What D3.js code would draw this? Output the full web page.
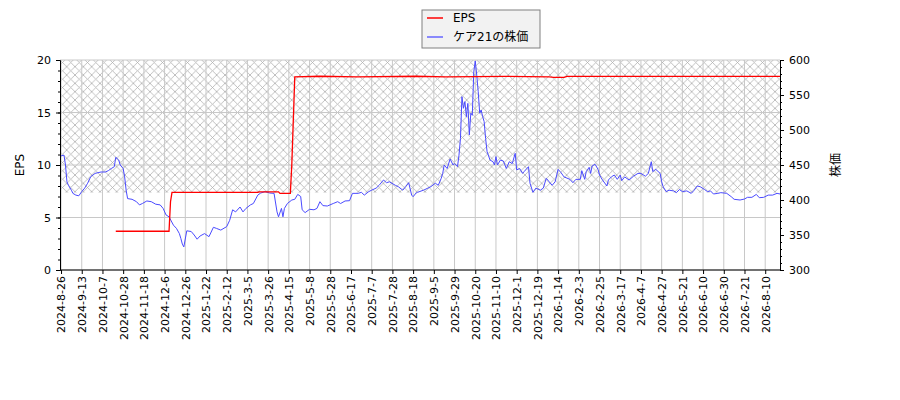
<!DOCTYPE html>
<html>
<head>
<meta charset="utf-8">
<script src="https://cdn.jsdelivr.net/npm/d3@7"></script>
<style>
  body { margin: 0; background: #fff; }
  text { font-family: "DejaVu Sans", sans-serif; }
</style>
</head>
<body>
<div id="chart-area"></div>
<script>
// X tick labels, one every 14 trading days
var tickLabels = ['2024-8-26','2024-9-13','2024-10-7','2024-10-28','2024-11-18','2024-12-6','2024-12-26',
  '2025-1-22','2025-2-12','2025-3-5','2025-3-26','2025-4-15','2025-5-8','2025-5-28','2025-6-17','2025-7-7',
  '2025-7-28','2025-8-18','2025-9-5','2025-9-29','2025-10-20','2025-11-10','2025-12-1','2025-12-19',
  '2026-1-14','2026-2-3','2026-2-25','2026-3-17','2026-4-7','2026-4-27','2026-5-21','2026-6-10',
  '2026-6-30','2026-7-21','2026-8-10'];
var tickStep = 14;
var lastDay = 486;

// EPS (left axis), [trading day, value]
var eps = [[37,3.69],[73,3.69],[74,6.5],[75,7.4],[133,7.4],[134,7.45],[147,7.45],[148,7.3],[155,7.3],
  [156,10.06],[158,18.4],[175,18.45],[200,18.4],[240,18.45],[260,18.4],[300,18.45],[330,18.4],
  [333,18.35],[340,18.35],[342,18.45],[486,18.45]];

// share price (right axis), [trading day, value]
var price = [[0,463],[2,464],[3,450],[4,426],[5,421],[7,414],[8,409.5],[10,407],[12,406],[14,412],[16,417],
  [18,424],[20,433],[23,438],[25,439],[27,440],[30,440],[32,442],[34,445],[36,447.6],[37,461],[39,457],
  [40,450],[42,445],[43,433],[44,414],[45,402],[48,401],[51,397.6],[53,393],[55,395],[58,398.6],[61,397.6],
  [64,394],[67,393],[69,388],[71,378.6],[73,376],[76,364],[78,359.5],[80,352],[81,345],[82,337],[83,333],
  [85,356],[88,355],[90,350],[92,344],[94,348.6],[97,352],[100,347.6],[103,361],[105,359.5],[108,357],
  [112,362],[114,371],[116,386],[118,383],[121,390],[123,383],[125,388],[128,393],[130,395],[133,407],
  [135,410],[138,412],[141,410],[144,409.5],[146,383],[147,376],[149,388],[150,376],[151,388],[153,395],
  [156,400],[158,401],[160,408],[162,405],[163,386],[165,382],[168,386.7],[171,386],[173,388],[175,397.6],
  [177,392],[180,391.4],[184,395],[187,397.6],[189,395],[192,398.6],[195,399],[197,409.5],[201,409.5],
  [203,411],[205,407],[208,412],[210,414],[213,417],[215,421],[218,428.6],[220,424.7],[222,426],[226,421],
  [228,419],[231,414],[233,419],[235,424.7],[237,407],[238,404.7],[240,410],[241,411],[245,414],[248,417],
  [250,419],[253,424],[255,421],[257,431],[258,438],[259,450],[261,445],[263,458.6],[265,450],[266,452],
  [268,447.6],[269,464],[270,488],[271,547.6],[272,531],[273,540.5],[274,519],[275,538],[276,493],
  [277,524],[278,521],[279,583],[280,598.6],[281,578.6],[282,554.8],[283,524],[284,528.6],[285,519],
  [286,512],[287,488],[288,469],[290,457],[292,454.7],[293,450],[294,462],[295,450],[297,457],[299,455.7],
  [301,445],[303,454.7],[305,452],[307,466.7],[308,443],[310,445],[312,438],[313,440.5],[316,447.6],
  [317,424],[319,411],[321,417],[324,414],[326,417],[328,431],[330,426],[332,421],[334,426],[336,443.8],
  [338,439],[340,433],[344,429.5],[346,424.7],[348,429.5],[351,429.5],[352,441.9],[354,429.5],[355,440.5],
  [357,446.7],[358,438],[359,448.6],[361,451],[363,443.8],[364,435.7],[366,428.6],[369,420],[370,428.6],
  [372,433],[374,435.7],[376,429.5],[378,435.7],[379,427.6],[381,433],[384,428.6],[387,434],[390,438],
  [392,438],[395,434],[397,438],[399,454.7],[400,440.5],[402,443.8],[405,438],[406,426],[407,419],
  [409,412],[411,414],[414,413],[416,410.5],[418,415],[420,412],[423,413],[426,409.5],[428,414],[430,420],
  [432,419],[435,415],[437,412],[439,413],[441,408.6],[444,409.5],[446,410.5],[450,409.5],[453,404.8],
  [455,401],[459,400],[462,401.4],[464,403.8],[467,403.8],[470,408],[472,403.3],[475,403.8],[478,407],
  [481,407],[484,409.5],[486,408.6]];

// hatched band on the EPS axis
var hatchBand = [7.36, 20];

var epsTicks = [0, 5, 10, 15, 20];
var priceTicks = [300, 350, 400, 450, 500, 550, 600];

var width = 900, height = 400;
var plotLeft = 60, plotRight = 780, plotTop = 60, plotBottom = 270;

var svg = d3.select('#chart-area').append('svg')
  .attr('width', width)
  .attr('height', height);

var x = d3.scaleLinear().domain([-0.7, lastDay]).range([plotLeft, plotRight]);
var yL = d3.scaleLinear().domain([0, 20]).range([plotBottom, plotTop]);
var yR = d3.scaleLinear().domain([300, 600]).range([plotBottom, plotTop]);

// hatch pattern
var defs = svg.append('defs');
var hs = 100 / 12;
var pat = defs.append('pattern')
  .attr('id', 'hatch')
  .attr('patternUnits', 'userSpaceOnUse')
  .attr('width', hs).attr('height', hs);
pat.append('path')
  .attr('d', `M0,0L${hs},${hs}M0,${hs}L${hs},0`)
  .attr('stroke', '#b0b0b0')
  .attr('stroke-width', 0.8)
  .attr('fill', 'none');

svg.append('rect')
  .attr('x', plotLeft).attr('width', plotRight - plotLeft)
  .attr('y', yL(hatchBand[1]))
  .attr('height', yL(hatchBand[0]) - yL(hatchBand[1]))
  .attr('fill', 'url(#hatch)');

// grid
var tickDays = tickLabels.map((d, i) => i * tickStep);
svg.append('g').selectAll('line')
  .data(tickDays).enter().append('line')
  .attr('x1', d => x(d)).attr('x2', d => x(d))
  .attr('y1', plotTop).attr('y2', plotBottom)
  .attr('stroke', '#c8c8c8').attr('stroke-width', 1);
svg.append('g').selectAll('line')
  .data(epsTicks).enter().append('line')
  .attr('x1', plotLeft).attr('x2', plotRight)
  .attr('y1', d => yL(d)).attr('y2', d => yL(d))
  .attr('stroke', '#c8c8c8').attr('stroke-width', 1);

// lines
svg.append('path')
  .datum(price)
  .attr('fill', 'none')
  .attr('stroke', '#4a4aff')
  .attr('stroke-width', 1)
  .attr('d', d3.line().x(d => x(d[0])).y(d => yR(d[1])));

svg.append('path')
  .datum(eps)
  .attr('fill', 'none')
  .attr('stroke', '#ff0000')
  .attr('stroke-width', 1.3)
  .attr('d', d3.line().x(d => x(d[0])).y(d => yL(d[1])));

// axes
var xAxis = svg.append('g')
  .attr('transform', `translate(0,${plotBottom})`)
  .call(d3.axisBottom(x).tickValues(tickDays).tickSize(4)
    .tickFormat((d, i) => tickLabels[i]));
xAxis.select('.domain').attr('d', `M${plotLeft},0H${plotRight}`);
xAxis.selectAll('text')
  .attr('transform', 'rotate(-90)')
  .attr('x', -6).attr('y', 0).attr('dy', '0.35em')
  .style('text-anchor', 'end');

var leftAxis = svg.append('g')
  .attr('transform', `translate(${plotLeft},0)`)
  .call(d3.axisLeft(yL).tickValues(d3.range(0, 21, 1)).tickSize(2).tickFormat(''));
leftAxis.select('.domain').remove();
svg.append('g')
  .attr('transform', `translate(${plotLeft},0)`)
  .call(d3.axisLeft(yL).tickValues(epsTicks).tickSize(4).tickPadding(5));

var rightAxis = svg.append('g')
  .attr('transform', `translate(${plotRight},0)`)
  .call(d3.axisRight(yR).tickValues(d3.range(300, 601, 10)).tickSize(2).tickFormat(''));
rightAxis.select('.domain').remove();
svg.append('g')
  .attr('transform', `translate(${plotRight},0)`)
  .call(d3.axisRight(yR).tickValues(priceTicks).tickSize(4).tickPadding(5));

svg.selectAll('.tick text').style('font-size', '11px').style('font-family', '"DejaVu Sans", sans-serif');
svg.selectAll('.domain').attr('stroke', '#000');

// axis titles
svg.append('text')
  .attr('transform', `translate(24,${(plotTop + plotBottom) / 2}) rotate(-90)`)
  .style('text-anchor', 'middle')
  .style('font-size', '12px')
  .text('EPS');
svg.append('text')
  .attr('transform', `translate(840,${(plotTop + plotBottom) / 2}) rotate(-90)`)
  .style('text-anchor', 'middle')
  .style('font-size', '12px')
  .style('font-family', '"Noto Sans CJK JP", sans-serif')
  .text('株価');

// legend
var legendData = [{name: 'EPS', color: '#ff0000'}, {name: 'ケア21の株価', color: '#6666ff'}];
var legend = svg.append('g').attr('transform', 'translate(422,10)');
legend.append('rect')
  .attr('width', 118).attr('height', 38)
  .attr('fill', '#f2f2f2')
  .attr('stroke', '#808080');
var legendItems = legend.selectAll('.legendItem')
  .data(legendData).enter().append('g')
  .attr('class', 'legendItem')
  .attr('transform', (d, i) => `translate(0,${8 + i * 19})`);
legendItems.append('line')
  .attr('x1', 5).attr('x2', 21)
  .attr('stroke', d => d.color)
  .attr('stroke-width', 1.5);
legendItems.append('text')
  .attr('x', 31).attr('dy', '0.35em')
  .style('font-size', '12px')
  .style('font-family', '"DejaVu Sans", "Noto Sans CJK JP", sans-serif')
  .text(d => d.name);
</script>
</body>
</html>
